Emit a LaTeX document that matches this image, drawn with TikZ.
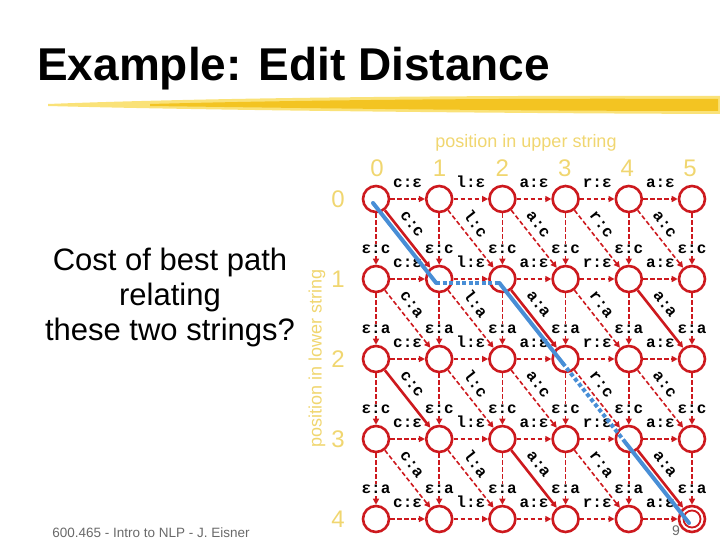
\documentclass[tikz,border=0pt]{standalone}
\usepackage{fontspec}
\setmainfont{Liberation Sans}
\newfontfamily\monofont{Liberation Mono}
\usetikzlibrary{arrows.meta}

\definecolor{edred}{RGB}{205,25,30}
\definecolor{pathblue}{RGB}{72,142,214}
\definecolor{numyellow}{RGB}{240,214,112}
\definecolor{brushgold}{RGB}{243,196,34}
\definecolor{brushlight}{RGB}{250,226,120}
\definecolor{footgray}{RGB}{105,105,105}

\tikzset{
  state/.style={circle,draw=edred,line width=2.6pt,minimum size=26pt,inner sep=0pt,fill=white},
  move/.style={edred,line width=1.6pt,dash pattern=on 4.5pt off 2.5pt,-{Triangle[length=6pt,width=6pt]}},
  match/.style={edred,line width=2.6pt,-{Triangle[length=6pt,width=6pt]}},
  arclab/.style={text=black,font=\monofont\fontsize{16}{16}\selectfont\bfseries,inner sep=1pt,text height=9pt,text depth=1pt},
  hlab/.style={arclab,above=9pt},
  vlab/.style={arclab,pos=.71,fill=white},
  dlab/.style={arclab,sloped,above=5pt,pos=.38},
  bestpath/.style={pathblue,line width=4pt,line cap=round},
  posnum/.style={numyellow,font=\fontsize{24}{24}\selectfont},
  postext/.style={numyellow,font=\fontsize{18}{18}\selectfont}
}

\begin{document}
\begin{tikzpicture}[x=1pt,y=-1pt,line join=round]
\useasboundingbox (0,0) rectangle (720,540);

\fill[brushlight] (48,104) .. controls (200,98) and (450,95) .. (720,96) -- (720,114) .. controls (450,113) and (200,110) .. (48,106) -- cycle;
\fill[brushgold] (150,104) .. controls (300,100) and (500,98) .. (718,99) -- (718,111) .. controls (500,111) and (300,108) .. (150,106) -- cycle;
\node[anchor=base west,inner sep=0pt,font=\bfseries\fontsize{46}{46}\selectfont] (title) at (37,81) {Example: Edit Distance};

\node[align=center,font=\fontsize{31}{35}\selectfont] (question) at (170,297) {Cost of best path\\relating\\these two strings?};
\node[footgray,font=\fontsize{13.5}{13.5}\selectfont] (footer) at (151,533) {600.465 - Intro to NLP - J. Eisner};
\node[footgray,font=\fontsize{14}{14}\selectfont] (pagenum) at (676,531) {9};

\node[postext] (upperlab) at (526,143) {position in upper string};
\node[postext,rotate=90] (lowerlab) at (317,358) {position in lower string};
\foreach \i in {0,...,5}
  \node[posnum] (col\i) at ({377+62.6*\i},168) {\i};
\foreach \j in {0,...,4}
  \node[posnum] (row\j) at (338,{199+80*\j}) {\j};

\foreach \i in {0,...,5}
  \foreach \j in {0,...,4}
    \node[state] (n\i\j) at ({376+63.2*\i},{199+80*\j}) {};
\node[circle,draw=edred,line width=1.8pt,minimum size=17pt,inner sep=0pt] (n54in) at (n54) {};

\foreach \uc [count=\i from 0] in {c,l,a,r,a}{
  \pgfmathtruncatemacro{\k}{\i+1}
  \foreach \j in {0,...,4}
    \draw[move] (n\i\j) -- node[hlab]{\uc:ε} (n\k\j);
}
\foreach \lc [count=\j from 0] in {c,a,c,a}{
  \pgfmathtruncatemacro{\m}{\j+1}
  \foreach \i in {0,...,5}
    \draw[move] (n\i\j) -- node[vlab]{ε:\lc} (n\i\m);
}
\foreach \uc [count=\i from 0] in {c,l,a,r,a}{
  \pgfmathtruncatemacro{\k}{\i+1}
  \foreach \lc [count=\j from 0] in {c,a,c,a}{
    \pgfmathtruncatemacro{\m}{\j+1}
    \ifx\uc\lc \def\dstyle{match}\else\def\dstyle{move}\fi
    \draw[\dstyle] (n\i\j) -- node[dlab]{\uc:\lc} (n\k\m);
  }
}

\draw[bestpath] ([shift={(-3,4)}]n00.center) -- ([shift={(-3,4)}]n11.center);
\draw[bestpath,line cap=butt,dash pattern=on 4pt off 2.5pt] ([shift={(-3,4)}]n11.center) -- ([shift={(-3,4)}]n21.center);
\draw[bestpath] ([shift={(-3,4)}]n21.center) -- ([shift={(-3,4)}]n32.center);
\draw[bestpath,line cap=butt,dash pattern=on 4pt off 2.5pt] ([shift={(-3,4)}]n32.center) -- ([shift={(-3,4)}]n43.center);
\draw[bestpath] ([shift={(-3,4)}]n43.center) -- ([shift={(-3,4)}]n54.center);
\end{tikzpicture}
\end{document}
